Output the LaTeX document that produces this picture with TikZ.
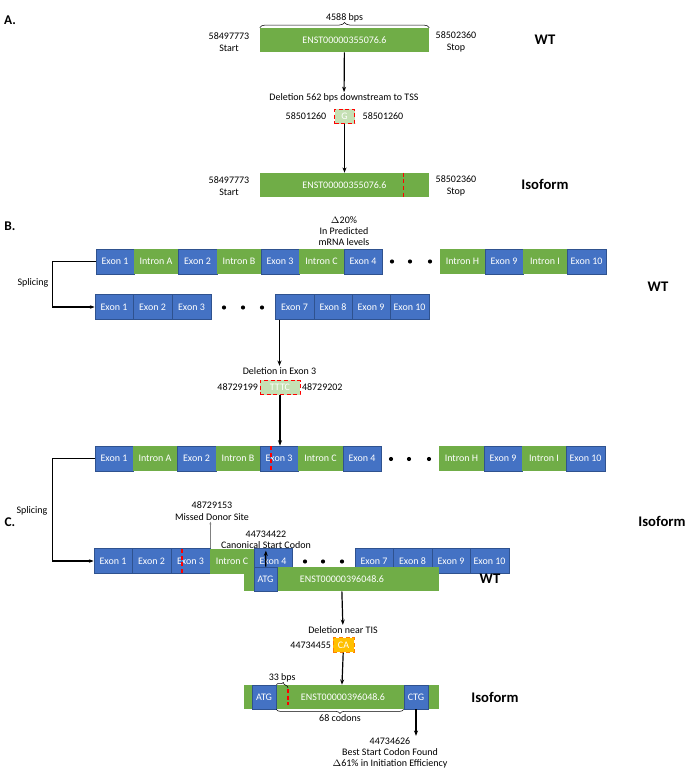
\documentclass[tikz,border=0pt]{standalone}
\usepackage{fontspec}
\setmainfont{Carlito}
\usetikzlibrary{arrows.meta,decorations.pathreplacing}
\definecolor{gn}{RGB}{112,173,71}
\definecolor{bl}{RGB}{68,114,196}
\definecolor{bld}{RGB}{47,82,143}
\definecolor{lg}{RGB}{197,224,180}
\definecolor{og}{RGB}{255,192,0}
\begin{document}
\begin{tikzpicture}
[x=0.75pt,y=-0.75pt,font=\fontsize{7.5}{8.5}\selectfont,
seg/.style={inner sep=0pt,text=white,minimum height=18.75pt},
ex/.style={seg,fill=bl,draw=bld,line width=0.6pt},
intr/.style={seg,fill=gn},
bar/.style={seg,fill=gn,minimum height=18pt},
del/.style={inner sep=0pt,text=white,draw=red,densely dashed,line width=0.6pt},
txt/.style={align=center,inner sep=1pt},
big/.style={font=\fontsize{11}{12}\selectfont\bfseries},
lab/.style={font=\fontsize{10}{11}\selectfont\bfseries},
dot/.style={circle,fill,inner sep=1.1pt},
arr/.style={-{Stealth[length=4pt]},line width=0.9pt},
cut/.style={draw=red,densely dashed,line width=1pt}]
\useasboundingbox (0,0) rectangle (685,771);
%%%%% A
\node[lab] (labA) at (10,20) {A.};
\node[bar,minimum width=126.75pt] (wtA) at (344.5,40) {ENST00000355076.6};
\draw[decorate,decoration={brace,amplitude=4pt}] (wtA.north west) -- (wtA.north east) node[midway,above=3pt,txt] (lenA) {4588 bps};
\node[txt] (stA1) at (229,42) {58497773\\Start};
\node[txt] (spA1) at (456,42) {58502360\\Stop};
\node[big] (wtlA) at (545,40) {WT};
\node[txt] (delA) at (344,98) {Deletion 562 bps downstream to TSS};
\node[del,fill=lg,minimum width=15pt,minimum height=11pt] (gA) at (344.5,116.5) {G};
\node[txt] (gl) at (306,116.5) {58501260};
\node[txt] (gr) at (383,116.5) {58501260};
\node[bar,minimum width=126.75pt] (isoA) at (344.5,185) {ENST00000355076.6};
\draw[cut] ([xshift=44pt]isoA.north) -- ([xshift=44pt]isoA.south);
\node[txt] (stA2) at (229,186) {58497773\\Start};
\node[txt] (spA2) at (456,186) {58502360\\Stop};
\node[big] (isolA) at (545,184) {Isoform};
\node[txt] (effA) at (344,231) {$\Delta$20\%\\In Predicted\\mRNA levels};
\draw[arr] (wtA) -- (delA);
\draw[arr] (gA) -- (isoA);
%%%%% B
\node[lab] (labB) at (10,226) {B.};
\foreach \a/\b/\t/\s [count=\k] in {96/134/Exon 1/ex,134/178/Intron A/intr,178/217/Exon 2/ex,217/261/Intron B/intr,261/299/Exon 3/ex,299/344/Intron C/intr,344/382/Exon 4/ex,440/485/Intron H/intr,485/523/Exon 9/ex,523/567/Intron I/intr,567/606/Exon 10/ex}
{
	\node[\s,minimum width={(\b-\a)*0.75pt}] (ra\k) at ({(\a+\b)/2},261.5) {\t};
	\node[\s,minimum width={(\b-\a)*0.75pt}] (rc\k) at ({(\a+\b)/2-1},458.5) {\t};
};
\foreach \a/\b/\t [count=\k] in {95/133/Exon 1,133/172/Exon 2,172/211/Exon 3,275/314/Exon 7,314/352/Exon 8,352/390/Exon 9,390/429/Exon 10}
	\node[ex,minimum width={(\b-\a)*0.75pt}] (rb\k) at ({(\a+\b)/2},307) {\t};
\foreach \a/\b/\t/\s [count=\k] in {94/132/Exon 1/ex,132/171/Exon 2/ex,171/210/Exon 3/ex,210/254/Intron C/intr,254/292/Exon 4/ex,355/393/Exon 7/ex,393/432/Exon 8/ex,432/470/Exon 9/ex,470/509/Exon 10/ex}
	\node[\s,minimum width={(\b-\a)*0.75pt}] (rd\k) at ({(\a+\b)/2},561) {\t};
\foreach \x [count=\k] in {392,410,430}
{
	\node[dot] (da\k) at (\x,261.5) {};
	\node[dot] (dc\k) at (\x-1,459) {};
};
\foreach \x [count=\k] in {224,243,262}
	\node[dot] (db\k) at (\x,307.5) {};
\foreach \x [count=\k] in {305,323,342}
	\node[dot] (dd\k) at (\x,561.5) {};
\draw[cut] (271,446) -- (271,471);
\draw[cut] (182,549) -- (182,573);
\draw[line width=0.8pt,-{Stealth[length=3.5pt]}] (ra1.west) -- ++(-43,0) |- (rb1.west);
\draw[line width=0.8pt,-{Stealth[length=3.5pt]}] (rc1.west) -- ++(-42,0) |- (rd1.west);
\node[txt] (spl1) at (33,283) {Splicing};
\node[txt] (spl2) at (32,511) {Splicing};
\node[big] (wtlB) at (658,287) {WT};
\node[big] (isolB) at (662,521) {Isoform};
\node[txt] (delB) at (279.5,371) {Deletion in Exon 3};
\node[del,fill=lg,minimum width=30pt,minimum height=11pt] (tB) at (280,387.5) {TTTC};
\node[txt,anchor=east] (tl) at (tB.west) {48729199};
\node[txt,anchor=west] (tr) at (tB.east) {48729202};
\node[txt] (dnr) at (212,511) {48729153\\Missed Donor Site};
\draw[arr] (delB.north |- rb4.south) -- (delB);
\draw[arr] (tB) -- (tB |- rc5.north);
\draw[gray,line width=0.4pt,-{Stealth[length=2pt]}] (rd3.north east) -- (dnr.south -| rd3.north east);
%%%%% C
\node[lab] (labC) at (10,522) {C.};
\node[bar,minimum width=146.25pt] (wtC) at (341.5,579) {};
\node[ex,minimum width=17.25pt,minimum height=18pt] (atg1) at (265.5,579) {ATG};
\node[text=white] (enC1) at (342,579) {ENST00000396048.6};
\node[txt] (canC) at (266,540) {44734422\\Canonical Start Codon};
\draw[arr] (atg1) -- (canC);
\node[big] (wtlC) at (490,579) {WT};
\node[txt] (delC) at (343,630) {Deletion near TIS};
\node[del,fill=og,draw=orange,minimum width=15.75pt,minimum height=11pt] (caC) at (343.5,645) {CA};
\node[txt,anchor=east] (cal) at (caC.west) {44734455};
\draw[arr] (wtC) -- (delC);
\node[bar,minimum width=146.25pt] (isoC) at (341.5,697) {};
\node[ex,minimum width=18pt,minimum height=18pt] (atg2) at (264,697) {ATG};
\node[ex,minimum width=18pt,minimum height=18pt] (ctg) at (416,697) {CTG};
\node[text=white] (enC2) at (343,697) {ENST00000396048.6};
\draw[cut] (288,689) -- (288,705);
\draw[arr] (caC) -- (isoC);
\draw[decorate,decoration={brace,amplitude=3pt}] (atg2.north east) -- (288,688) node[midway,above=2pt,txt] (bps) {33 bps};
\draw[decorate,decoration={brace,amplitude=3pt,mirror}] (atg2.south east) -- (ctg.south west) node[midway,below=3pt,txt] (cod) {68 codons};
\node[big] (isolC) at (495,697) {Isoform};
\node[txt] (bestC) at (390,753) {44734626\\Best Start Codon Found\\$\Delta$61\% in Initiation Efficiency};
\draw[arr] (ctg.south) -- (ctg.south |- bestC.north);
\end{tikzpicture}
\end{document}
